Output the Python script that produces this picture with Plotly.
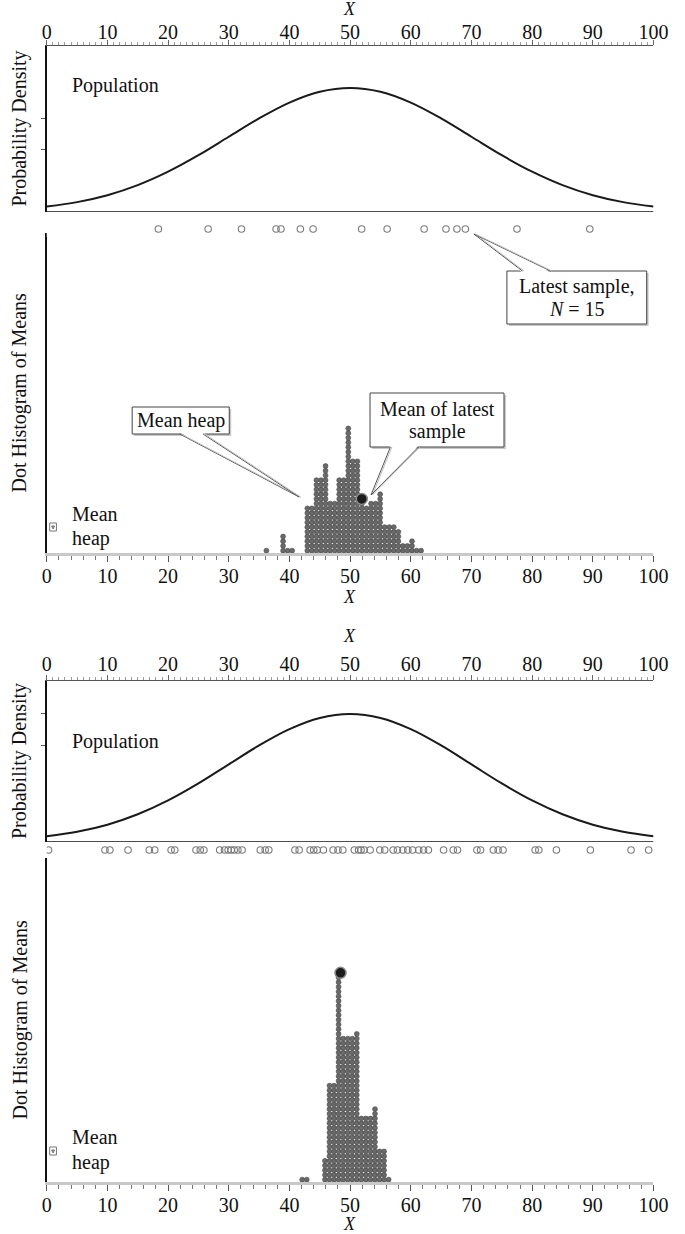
import plotly.graph_objects as go

W, H = 685, 1234
SERIF = "Liberation Serif"


def px(x):
    return x / W


def py(y):
    return 1 - y / H


# Population density read every 5 units of X
pop_x = list(range(0, 101, 5))
pop_density = [0.00088, 0.00159, 0.0027, 0.00432, 0.00648, 0.00913, 0.0121, 0.01506,
               0.0176, 0.01934, 0.01995, 0.01934, 0.0176, 0.01506, 0.0121, 0.00913,
               0.00648, 0.00432, 0.0027, 0.00159, 0.00088]

# Upper display: latest sample (N = 15) and the heap of sample means
sample_a = [18.4, 26.6, 32.1, 37.8, 38.6, 41.8, 43.9, 51.9, 56.1, 62.2,
            65.8, 67.6, 69.0, 77.5, 89.5]
heap_a_x = [36.2, 38.95, 39.7, 40.45, 42.95, 43.7, 44.45, 45.2, 45.95, 46.7,
            47.45, 48.2, 48.95, 49.7, 50.45, 51.2, 51.95, 52.7, 53.45, 54.2,
            54.95, 55.7, 56.45, 57.2, 57.95, 58.7, 59.45, 60.2, 60.95, 61.7]
heap_a_n = [1, 4, 1, 1, 10, 10, 16, 16, 19, 11,
            11, 16, 16, 27, 20, 20, 11, 10, 11, 11,
            13, 6, 6, 6, 5, 2, 2, 3, 1, 1]

# Lower display: a larger latest sample and its narrower heap of means
sample_b = [0.3, 9.6, 10.4, 13.4, 16.9, 17.8, 20.5, 21.1, 24.6, 25.3, 25.9,
            28.5, 29.3, 29.9, 30.4, 30.9, 31.5, 32.2, 35.2, 36.0, 36.6,
            40.9, 41.6, 43.4, 44.0, 44.6, 45.6, 47.2, 48.0, 48.8,
            50.7, 51.4, 51.8, 52.3, 53.3, 54.9, 55.7, 57.1, 57.8, 58.7, 59.5,
            60.3, 61.3, 62.1, 62.9, 65.4, 67.0, 67.7, 70.9, 71.5, 73.6, 74.4,
            75.2, 80.5, 81.1, 84.0, 89.6, 96.3, 99.2]
heap_b_x = [42.1, 42.85, 45.85, 46.6, 47.35, 48.1, 48.85, 49.6, 50.35, 51.1,
            51.85, 52.6, 53.35, 54.1, 54.85, 55.6, 56.35]
heap_b_n = [1, 1, 5, 21, 21, 44, 31, 31, 31, 32,
            14, 14, 14, 16, 7, 7, 1]

x_tick0, x_dtick = 0, 10

DOT_PITCH = 4.7          # px between stacked dots
DOT_FILL = "#6a6a6a"
DOT_EDGE = "#444444"
TICK_SIZE = 20
TEXT_SIZE = 20


def heap_points(xs, ns):
    hx, hy = [], []
    for x, n in zip(xs, ns):
        for r in range(n):
            hx.append(x)
            hy.append(r + 0.5)
    return hx, hy


def latest_mean_point(sample, xs, ns):
    m = sum(sample) / len(sample)
    i = min(range(len(xs)), key=lambda k: abs(xs[k] - m))
    return m, ns[i] + 0.5


def label(text, x, y, size=TEXT_SIZE, xanchor="center", angle=0):
    return dict(text=text, x=px(x), y=py(y), xref="paper", yref="paper",
                xanchor=xanchor, yanchor="middle", textangle=angle,
                showarrow=False, font=dict(size=size, family=SERIF, color="#111"))


fig = go.Figure()

panels = [
    dict(sample=sample_a, hx=heap_a_x, hn=heap_a_n,
         top=46, pop_bottom=212, row=229, heap_top=233, heap_bottom=553,
         pop_max=0.0267, dens_ticks=[0.01, 0.015], xt_top=9, xt_bot=597,
         top_standoff=-7,
         pop_label=85, mean_y=514, heap_y=539, icon_y=527),
    dict(sample=sample_b, hx=heap_b_x, hn=heap_b_n,
         top=681, pop_bottom=842, row=850, heap_top=858, heap_bottom=1182,
         pop_max=0.0251, dens_ticks=[0.015, 0.02], xt_top=636, xt_bot=1224,
         top_standoff=-4,
         pop_label=741, mean_y=1137, heap_y=1162, icon_y=1151),
]

layout = dict(
    width=W, height=H, margin=dict(l=0, r=0, t=0, b=0),
    paper_bgcolor="white", plot_bgcolor="white", showlegend=False,
    font=dict(family=SERIF, size=TICK_SIZE, color="#111"),
)
annotations = []
shapes = []

xdom = [px(43), px(668)]

for k, p in enumerate(panels):
    xa_pop = 2 * k + 1
    xa_heap = 2 * k + 2
    ya_pop = 3 * k + 1
    ya_heap = 3 * k + 2
    ya_row = 3 * k + 3

    def nm(prefix, n):
        return prefix if n == 1 else f"{prefix}{n}"

    # population curve
    fig.add_trace(go.Scatter(
        x=pop_x, y=pop_density, mode="lines", line=dict(color="#1a1a1a", width=2, shape="spline"),
        xaxis=nm("x", xa_pop), yaxis=nm("y", ya_pop), hoverinfo="skip"))

    # latest sample
    fig.add_trace(go.Scatter(
        x=p["sample"], y=[0] * len(p["sample"]), mode="markers",
        marker=dict(symbol="circle-open", size=6.5, color="#7a7a7a", line=dict(width=1.1)),
        xaxis=nm("x", xa_heap), yaxis=nm("y", ya_row), hoverinfo="skip"))

    # heap of means
    hx, hy = heap_points(p["hx"], p["hn"])
    fig.add_trace(go.Scatter(
        x=hx, y=hy, mode="markers",
        marker=dict(size=4.9, color=DOT_FILL, line=dict(color=DOT_EDGE, width=0.6)),
        xaxis=nm("x", xa_heap), yaxis=nm("y", ya_heap), hoverinfo="skip"))

    # mean of the latest sample
    mx, my = latest_mean_point(p["sample"], p["hx"], p["hn"])
    fig.add_trace(go.Scatter(
        x=[mx], y=[my], mode="markers",
        marker=dict(size=11, color="#1c1c1c", line=dict(color="#8a8a8a", width=1.5)),
        xaxis=nm("x", xa_heap), yaxis=nm("y", ya_heap), hoverinfo="skip"))

    heap_px = p["heap_bottom"] - p["heap_top"]

    layout[nm("xaxis", xa_pop)] = dict(
        domain=xdom, anchor=nm("y", ya_pop), side="top", range=[0, 100],
        tickmode="linear", tick0=x_tick0, dtick=x_dtick,
        ticks="outside", ticklen=5, tickcolor="#666", tickwidth=1,
        minor=dict(dtick=1, ticklen=3, tickcolor="#9a9a9a", ticks="outside"),
        ticklabelstandoff=p["top_standoff"],
        showline=True, linecolor="#555", linewidth=1,
        showgrid=False, zeroline=False, tickfont=dict(size=TICK_SIZE, family=SERIF))
    layout[nm("yaxis", ya_pop)] = dict(
        domain=[py(p["pop_bottom"]), py(p["top"])], anchor=nm("x", xa_pop),
        range=[0, p["pop_max"]], tickvals=p["dens_ticks"],
        ticks="outside", ticklen=4, tickcolor="#555", showticklabels=False,
        showline=True, linecolor="#111", linewidth=1.5, showgrid=False, zeroline=False)
    layout[nm("xaxis", xa_heap)] = dict(
        domain=xdom, anchor=nm("y", ya_heap), side="bottom", range=[0, 100],
        tickmode="linear", tick0=x_tick0, dtick=x_dtick,
        ticks="outside", ticklen=6, tickcolor="#555", tickwidth=1,
        minor=dict(dtick=2, ticklen=4, tickcolor="#777", ticks="outside"),
        ticklabelstandoff=-3,
        showline=True, linecolor="#c9c9c9", linewidth=3,
        showgrid=False, zeroline=False, tickfont=dict(size=TICK_SIZE, family=SERIF))
    layout[nm("yaxis", ya_heap)] = dict(
        domain=[py(p["heap_bottom"]), py(p["heap_top"])], anchor=nm("x", xa_heap),
        range=[0, heap_px / DOT_PITCH], showticklabels=False, ticks="",
        showline=True, linecolor="#111", linewidth=1.5, showgrid=False, zeroline=False)
    layout[nm("yaxis", ya_row)] = dict(
        domain=[py(p["row"] + 8), py(p["row"] - 8)], anchor=nm("x", xa_heap),
        range=[-1, 1], visible=False)

    # bottom edge of the population panel
    shapes.append(dict(type="line", xref=nm("x", xa_pop), yref=nm("y", ya_pop),
                       x0=0, x1=100, y0=0, y1=0, line=dict(color="#111", width=1.5)))

    annotations += [
        label("<i>X</i>", 355, p["xt_top"], size=18),
        label("<i>X</i>", 355, p["xt_bot"], size=18),
        label("Population", 67, p["pop_label"], xanchor="left"),
        label("Probability Density", 15, (p["top"] + p["pop_bottom"]) / 2, angle=-90),
        label("Dot Histogram of Means", 15, (p["heap_top"] + p["heap_bottom"]) / 2, angle=-90),
        label("Mean", 67, p["mean_y"], xanchor="left"),
        label("heap", 67, p["heap_y"], xanchor="left"),
    ]
    # small toggle icon next to "Mean heap"
    iy = p["icon_y"]
    shapes.append(dict(type="rect", xref="paper", yref="paper",
                       x0=px(46), x1=px(53), y0=py(iy + 4), y1=py(iy - 4),
                       line=dict(color="#777", width=1), fillcolor="white"))
    shapes.append(dict(type="path", xref="paper", yref="paper",
                       path=f"M {px(48)},{py(iy - 1)} L {px(51)},{py(iy - 1)} L {px(49.5)},{py(iy + 2)} Z",
                       line=dict(color="#777", width=1), fillcolor="#999"))


def callout(box, tip, base, lines, line_gap=22):
    x0, y0, x1, y1 = box
    # shadow
    shapes.append(dict(type="rect", xref="paper", yref="paper",
                       x0=px(x0 + 2), x1=px(x1 + 2), y0=py(y1 + 2), y1=py(y0 + 2),
                       line=dict(width=0), fillcolor="#c8c8c8"))
    shapes.append(dict(type="rect", xref="paper", yref="paper",
                       x0=px(x0), x1=px(x1), y0=py(y1), y1=py(y0),
                       line=dict(color="#444", width=1), fillcolor="white"))
    (bx0, by0), (bx1, by1) = base
    tx, ty = tip
    # wedge body, covering the box edge between its two legs
    inset = 1.5 if ty < by0 else -1.5
    shapes.append(dict(type="path", xref="paper", yref="paper",
                       path=(f"M {px(bx0)},{py(by0 + inset)} L {px(tx)},{py(ty)} "
                             f"L {px(bx1)},{py(by1 + inset)} Z"),
                       line=dict(width=0), fillcolor="white"))
    for bx, by in base:
        shapes.append(dict(type="line", xref="paper", yref="paper",
                           x0=px(bx), y0=py(by), x1=px(tx), y1=py(ty),
                           line=dict(color="#555", width=1)))
        shapes.append(dict(type="line", xref="paper", yref="paper",
                           x0=px(bx + 1.5), y0=py(by), x1=px(tx + 1.5), y1=py(ty),
                           line=dict(color="#bbb", width=1)))
    n = len(lines)
    cx = (x0 + x1) / 2
    cy0 = (y0 + y1) / 2 - line_gap * (n - 1) / 2
    for i, t in enumerate(lines):
        annotations.append(label(t, cx, cy0 + i * line_gap))


callout((517, 271, 661, 324), (483, 234), [(533, 271), (562, 271)],
        ["Latest sample,", "<i>N</i> = 15"])
callout((131, 407, 231, 434), (303, 497), [(180, 434), (204, 434)], ["Mean heap"])
callout((376, 393, 514, 447), (377, 495), [(397, 447), (426, 447)],
        ["Mean of latest", "sample"])

layout["annotations"] = annotations
layout["shapes"] = shapes
fig.update_layout(**layout)
fig.write_html("out.html")
